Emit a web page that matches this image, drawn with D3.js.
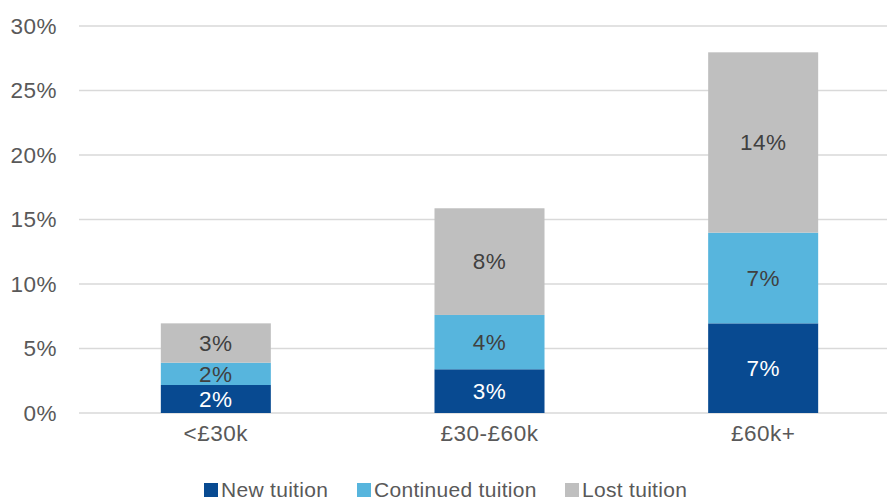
<!DOCTYPE html>
<html>
<head>
<meta charset="utf-8">
<script src="https://cdn.jsdelivr.net/npm/d3@7"></script>
<style>
  body { margin: 0; background: #fff; }
  text { font-family: 'Liberation Sans', Arial, sans-serif; }
</style>
</head>
<body>
<div id="graf"></div>
<script>
// Datos
categorias = ['<£30k', '£30-£60k', '£60k+']
series     = ['New tuition', 'Continued tuition', 'Lost tuition']
nuevo      = [2.17, 3.39, 6.95]
continuado = [1.73, 4.21, 7.03]
perdido    = [3.05, 8.27, 13.98]
yticks     = [0, 5, 10, 15, 20, 25, 30]

colores = ['#084a91', '#57b5dd', '#bfbfbf']
textos  = ['#ffffff', '#404040', '#404040']

ancho_total = 887
alto_total  = 502
margins = { top: 26, left: 79, right: -13, bottom: 89 }
ancho = ancho_total - margins.left - margins.right
alto  = alto_total - margins.top - margins.bottom

svg = d3.select('#graf').append('svg')
        .attr('width', ancho_total)
        .attr('height', alto_total)

g = svg.append('g')
       .attr('transform', `translate(${ margins.left }, ${ margins.top })`)

// Escaladores
x = d3.scaleBand().domain(categorias).range([0, ancho]).paddingInner(0.598).paddingOuter(0.299)
y = d3.scaleLinear().domain([0, 30]).range([alto, 0])

// Grilla
g.selectAll('line.grid')
  .data(yticks)
  .enter().append('line')
    .attr('class', 'grid')
    .attr('x1', 0)
    .attr('x2', ancho_total - margins.left)
    .attr('y1', d => y(d))
    .attr('y2', d => y(d))
    .attr('stroke', '#d9d9d9')
    .attr('stroke-width', 1.5)

g.selectAll('text.ytick')
  .data(yticks)
  .enter().append('text')
    .attr('class', 'ytick')
    .attr('x', -22)
    .attr('y', d => y(d))
    .attr('dy', '0.35em')
    .attr('text-anchor', 'end')
    .attr('font-size', '22.5px')
    .attr('letter-spacing', '0.5px')
    .attr('fill', '#595959')
    .text(d => d + '%')

// Apilado
tabla = categorias.map((c, i) => ({ cat: c, s0: nuevo[i], s1: continuado[i], s2: perdido[i] }))
stack = d3.stack().keys(['s0', 's1', 's2'])(tabla)

capas = g.selectAll('g.capa')
  .data(stack)
  .enter().append('g')
    .attr('class', 'capa')

capas.selectAll('rect')
  .data((d, i) => d.map(p => ({ p: p, i: i })))
  .enter().append('rect')
    .attr('x', d => x(d.p.data.cat))
    .attr('width', x.bandwidth())
    .attr('y', d => y(d.p[1]))
    .attr('height', d => y(d.p[0]) - y(d.p[1]))
    .attr('fill', d => colores[d.i])

capas.selectAll('text')
  .data((d, i) => d.map(p => ({ p: p, i: i })))
  .enter().append('text')
    .attr('x', d => x(d.p.data.cat) + x.bandwidth() / 2)
    .attr('y', d => (y(d.p[0]) + y(d.p[1])) / 2)
    .attr('dy', '0.35em')
    .attr('text-anchor', 'middle')
    .attr('font-size', '22.5px')
    .attr('letter-spacing', '0.5px')
    .attr('fill', d => textos[d.i])
    .text(d => Math.round(d.p[1] - d.p[0]) + '%')

// Eje x
g.selectAll('text.xcat')
  .data(categorias)
  .enter().append('text')
    .attr('class', 'xcat')
    .attr('x', d => x(d) + x.bandwidth() / 2)
    .attr('y', alto + 20)
    .attr('dy', '0.35em')
    .attr('text-anchor', 'middle')
    .attr('font-size', '22.5px')
    .attr('letter-spacing', '0.5px')
    .attr('fill', '#595959')
    .text(d => d)

// Leyenda
leyX = [204, 357, 565]
ley = svg.selectAll('g.ley')
  .data(series)
  .enter().append('g')
    .attr('class', 'ley')
    .attr('transform', (d, i) => `translate(${ leyX[i] }, 483)`)

ley.append('rect')
  .attr('width', 14)
  .attr('height', 14)
  .attr('fill', (d, i) => colores[i])

ley.append('text')
  .attr('x', 17)
  .attr('y', 14)
  .attr('font-size', '21px')
  .attr('letter-spacing', '0.3px')
  .attr('fill', '#595959')
  .text(d => d)
</script>
</body>
</html>
